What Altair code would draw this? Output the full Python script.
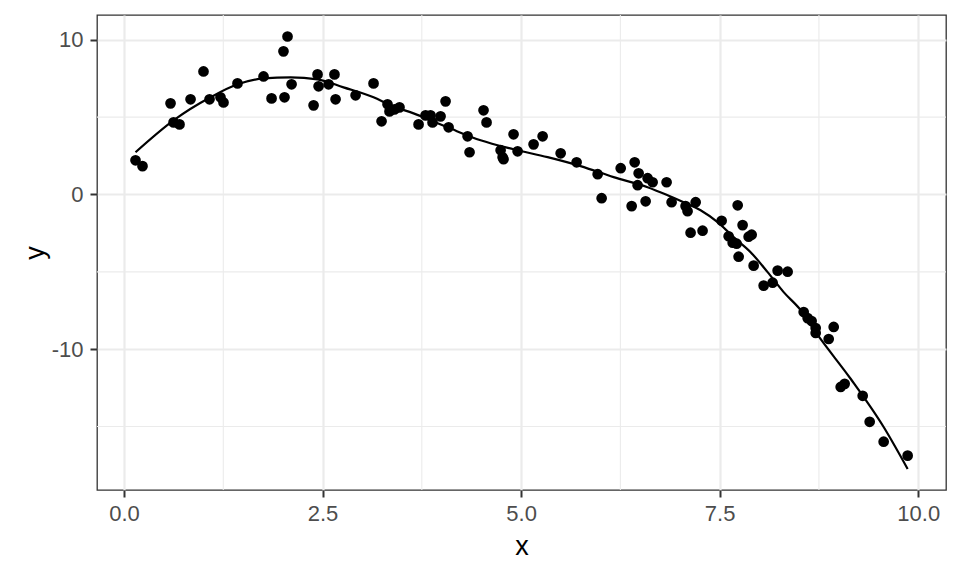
import altair as alt
import pandas as pd

# scatter points
xs = [0.145, 0.233, 0.586, 0.624, 0.699, 0.838, 1.001, 1.077, 1.215, 1.253,
      1.429, 1.757, 1.858, 2.021, 2.008, 2.059, 2.110, 2.387, 2.437, 2.450,
      2.576, 2.650, 2.664, 2.916, 3.142, 3.243, 3.318, 3.343, 3.406, 3.469,
      3.709, 3.797, 3.860, 3.885, 3.986, 4.049, 4.087, 4.326, 4.351, 4.527,
      4.565, 4.742, 4.767, 4.779, 4.905, 4.956, 5.157, 5.271, 5.498, 5.699,
      5.964, 6.014, 6.254, 6.430, 6.480, 6.467, 6.593, 6.656, 6.832, 6.392,
      6.568, 6.895, 7.071, 7.096, 7.198, 7.134, 7.285, 7.525, 7.727, 7.613,
      7.664, 7.714, 7.739, 7.789, 7.865, 7.903, 7.928, 8.054, 8.167, 8.230,
      8.356, 8.558, 8.608, 8.658, 8.709, 8.709, 8.936, 8.873, 9.024, 9.074,
      9.301, 9.389, 9.565, 9.867]
ys = [2.21, 1.83, 5.89, 4.66, 4.53, 6.15, 7.95, 6.15, 6.28, 5.95,
      7.18, 7.63, 6.21, 6.28, 9.25, 10.21, 7.12, 5.76, 7.76, 6.99,
      7.12, 7.76, 6.15, 6.41, 7.18, 4.73, 5.83, 5.37, 5.50, 5.63,
      4.53, 5.11, 5.11, 4.66, 5.05, 6.02, 4.34, 3.76, 2.73, 5.44,
      4.66, 2.86, 2.41, 2.28, 3.89, 2.79, 3.24, 3.76, 2.66, 2.08,
      1.31, -0.24, 1.70, 2.08, 1.37, 0.60, 1.05, 0.79, 0.79, -0.75,
      -0.44, -0.50, -0.75, -1.08, -0.50, -2.47, -2.34, -1.70, -0.70, -2.70,
      -3.12, -3.18, -4.02, -1.98, -2.73, -2.60, -4.60, -5.89, -5.70, -4.92,
      -4.99, -7.60, -7.99, -8.18, -8.63, -8.95, -8.56, -9.34, -12.44, -12.24,
      -13.01, -14.69, -15.98, -16.88]

# smooth (loess) curve
fit_x = [0.145, 0.624, 1.089, 1.429, 1.757, 2.097, 2.437, 2.764, 3.142, 3.356,
         3.646, 4.074, 4.490, 4.905, 5.334, 5.749, 6.165, 6.593, 6.845, 7.046,
         7.260, 7.474, 7.676, 7.890, 8.104, 8.306, 8.520, 8.734, 9.149, 9.565,
         9.867]
fit_y = [2.73, 4.79, 6.28, 7.12, 7.50, 7.57, 7.44, 6.92, 6.28, 5.76,
         5.24, 4.34, 3.50, 2.92, 2.41, 1.83, 1.12, 0.47, -0.05, -0.50,
         -1.02, -1.79, -2.76, -3.73, -5.02, -6.31, -7.47, -9.08, -11.91, -15.03,
         -17.74]

x_ticks = [0, 2.5, 5, 7.5, 10]
y_ticks = [-10, 0, 10]
x_minor = [1.25, 3.75, 6.25, 8.75]
y_minor = [-15, -5, 5]
x_domain = [-0.34, 10.35]
y_domain = [-19.1, 11.6]

pts = pd.DataFrame({"x": xs, "y": ys})
fit = pd.DataFrame({"x": fit_x, "y": fit_y})
mx = pd.DataFrame({"v": x_minor})
my = pd.DataFrame({"v": y_minor})

FONT = "Liberation Sans"
xscale = alt.Scale(domain=x_domain, nice=False, zero=False)
yscale = alt.Scale(domain=y_domain, nice=False, zero=False)

xaxis = alt.Axis(values=x_ticks, format=".1f", title="x", grid=True,
                 gridColor="#EBEBEB", gridWidth=2.2, domain=False,
                 tickColor="#333333", tickWidth=2, tickSize=7,
                 labelPadding=6, labelColor="#4D4D4D", labelFont=FONT,
                 labelFontSize=22, titleFont=FONT, titleFontSize=27,
                 titleFontWeight="normal", titleColor="#000000", titlePadding=9)
yaxis = alt.Axis(values=y_ticks, labelExpr="'' + datum.value", title="y", grid=True,
                 gridColor="#EBEBEB", gridWidth=2.2, domain=False,
                 tickColor="#333333", tickWidth=2, tickSize=7,
                 labelPadding=7, labelColor="#4D4D4D", labelFont=FONT,
                 labelFontSize=22, titleFont=FONT, titleFontSize=27,
                 titleFontWeight="normal", titleColor="#000000", titlePadding=2)

minor_x = alt.Chart(mx).mark_rule(color="#EBEBEB", strokeWidth=1.1).encode(
    x=alt.X("v:Q", scale=xscale, axis=xaxis))
minor_y = alt.Chart(my).mark_rule(color="#EBEBEB", strokeWidth=1.1).encode(
    y=alt.Y("v:Q", scale=yscale, axis=yaxis))

points = alt.Chart(pts).mark_circle(color="black", opacity=1, size=115).encode(
    x=alt.X("x:Q", scale=xscale, axis=xaxis),
    y=alt.Y("y:Q", scale=yscale, axis=yaxis))

line = alt.Chart(fit).mark_line(color="black", strokeWidth=2.2, interpolate="monotone").encode(
    x=alt.X("x:Q", scale=xscale, axis=xaxis),
    y=alt.Y("y:Q", scale=yscale, axis=yaxis))

chart = alt.layer(minor_x, minor_y, points, line).properties(
    width=849, height=475,
    autosize=alt.AutoSizeParams(type="none"),
    padding={"left": 89, "top": 7, "right": 6, "bottom": 70},
    background="white",
).configure_view(stroke="#333333", strokeWidth=1.3)

chart.save("out.html", embed_options={"renderer": "svg", "actions": False})
